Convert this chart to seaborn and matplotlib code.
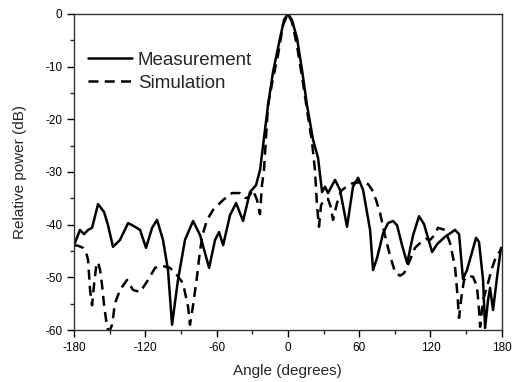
import numpy as np
import pandas as pd
import matplotlib
matplotlib.use("Agg")
import matplotlib.pyplot as plt
import seaborn as sns
from matplotlib.ticker import MultipleLocator

sns.set_style("ticks")
plt.rcParams['font.family'] = ['Liberation Sans', 'DejaVu Sans']
plt.rcParams['axes.unicode_minus'] = False

meas_angle = [-180, -175, -171.6, -168.2, -164.8, -159.8, -154.7, -151.4, -147.2, -141.3,
              -134.5, -129.5, -124.4, -119.4, -114.3, -110.1, -105.1, -100.9, -97.5, -92.5,
              -86.6, -79.8, -73.9, -66.3, -61.3, -57.9, -54.5, -48.7, -43.6, -37.7,
              -31.9, -26.8, -23.4, -16.7, -12.5, -6.6, -3.2, 0, 3.4, 7.7,
              11.9, 16.1, 21.2, 25.4, 27.1, 28.8, 31.3, 33.8, 39.7, 43.9,
              49.8, 54.8, 59.1, 63.3, 69.2, 71.7, 75.1, 80.2, 84.3, 88.5,
              91.9, 96.1, 100.4, 105.4, 110.4, 114.6, 121.4, 125.6, 132.3, 140.7,
              144.1, 147.4, 150.8, 158.4, 160.9, 164.3, 166.0, 168.5, 170.2, 172.7,
              176.1, 179.4]
meas_db = [-43.9, -41.0, -41.8, -41.0, -40.6, -36.1, -37.6, -40.1, -44.2, -42.9,
           -39.7, -40.3, -41.0, -44.4, -40.6, -39.1, -42.9, -48.6, -59.0, -50.5,
           -42.9, -39.3, -42.0, -48.2, -42.9, -41.4, -43.9, -38.2, -35.9, -39.3,
           -33.8, -32.5, -29.6, -17.3, -11.0, -4.6, -1.1, 0.0, -1.1, -4.6,
           -10.6, -17.3, -23.9, -27.3, -30.6, -33.8, -32.8, -34.0, -31.5, -33.4,
           -40.4, -32.8, -31.1, -33.4, -41.0, -48.6, -46.3, -41.6, -39.7, -39.3,
           -40.1, -43.9, -47.3, -42.0, -38.4, -39.9, -45.2, -43.7, -42.3, -41.0,
           -41.8, -50.3, -48.6, -42.5, -43.3, -50.5, -59.6, -54.3, -52.0, -56.2,
           -49.9, -44.4]

sim_angle = [-180, -176.6, -172.4, -169.9, -168.2, -166.5, -164.8, -163.2, -161.5, -159.8,
             -158.1, -156.4, -154.7, -153.0, -151.4, -149.7, -148.0, -145.5, -141.3, -135.4,
             -130.3, -124.4, -117.7, -111.8, -105.9, -99.2, -93.3, -88.3, -84.0, -82.4,
             -79.8, -76.5, -73.9, -71.4, -68.0, -63.0, -54.5, -47.0, -40.3, -36.1,
             -33.6, -29.4, -26.0, -23.5, -21.8, -20.1, -16.7, -12.5, -8.3, -4.1,
             0, 3.4, 7.6, 12.6, 16.8, 20.3, 22.8, 24.5, 26.2, 27.9,
             30.4, 33.8, 36.3, 38.0, 41.4, 44.7, 49.8, 54.8, 62.4, 67.5,
             70.9, 74.2, 77.6, 81.8, 86.0, 90.2, 94.4, 97.8, 102.8, 107.0,
             111.2, 116.3, 119.6, 123.0, 126.4, 132.3, 136.5, 140.7, 142.4, 144.1,
             145.8, 148.3, 151.6, 155.9, 159.2, 160.9, 161.8, 164.3, 167.6, 171.9,
             175.2, 179.4]
sim_db = [-43.9, -44.0, -44.4, -45.2, -46.7, -52.4, -55.3, -51.5, -48.2, -47.1,
          -48.6, -51.5, -55.3, -58.1, -60.0, -60.0, -59.0, -54.9, -52.4, -50.5,
          -52.4, -52.8, -50.5, -48.2, -47.8, -48.2, -49.6, -51.1, -55.6, -59.0,
          -55.3, -49.9, -44.8, -41.6, -39.1, -37.2, -35.3, -34.0, -34.0, -34.9,
          -34.9, -33.4, -35.3, -38.0, -32.5, -29.6, -17.3, -12.2, -7.8, -2.1,
          0.0, -1.5, -5.9, -12.9, -19.2, -24.3, -29.6, -36.3, -40.4, -36.3,
          -35.3, -35.1, -36.8, -39.1, -35.9, -33.6, -32.7, -32.1, -31.9, -32.3,
          -33.4, -35.3, -37.8, -42.1, -45.9, -49.0, -49.7, -49.2, -46.7, -44.4,
          -43.5, -42.7, -42.9, -42.1, -40.6, -41.0, -43.5, -48.0, -52.4, -57.7,
          -54.2, -50.5, -49.7, -49.9, -51.8, -56.2, -59.4, -54.3, -51.8, -48.2,
          -46.1, -44.8]

x_ticks = [-180, -120, -60, 0, 60, 120, 180]
y_ticks = [0, -10, -20, -30, -40, -50, -60]

meas = pd.DataFrame({"angle": meas_angle, "db": meas_db})
sim = pd.DataFrame({"angle": sim_angle, "db": sim_db})

fig = plt.figure(figsize=(5.13, 3.82), dpi=100)
ax = fig.add_axes([0.1443, 0.1361, 0.8337, 0.8273])

sns.lineplot(data=meas, x="angle", y="db", ax=ax, color="black", lw=1.8,
             label="Measurement", sort=False, estimator=None)
sns.lineplot(data=sim, x="angle", y="db", ax=ax, color="black", lw=1.8,
             label="Simulation", sort=False, estimator=None)
ax.lines[1].set_dashes((4, 2.5))
for ln in ax.lines:
    ln.set_solid_joinstyle("round")
    ln.set_dash_joinstyle("round")

ax.set_xlim(-180, 180)
ax.set_ylim(-60, 0)
ax.set_xticks(x_ticks)
ax.set_yticks(y_ticks)
ax.xaxis.set_minor_locator(MultipleLocator(30))
ax.yaxis.set_minor_locator(MultipleLocator(5))
ax.tick_params(which="major", direction="out", length=5, width=1, labelsize=8.5, colors="black")
ax.tick_params(which="minor", direction="out", length=3, width=1)
ax.tick_params(top=False, right=False, which="both")
for s in ax.spines.values():
    s.set_visible(True)
    s.set_color("#333333")
    s.set_linewidth(1.0)

ax.set_xlabel("Angle (degrees)", fontsize=11, labelpad=7)
ax.set_ylabel("Relative power (dB)", fontsize=11, labelpad=13)

leg = ax.legend(loc="upper left", bbox_to_anchor=(0.0327, 0.88), frameon=False,
                borderpad=0, borderaxespad=0,
                fontsize=13.5, handlelength=2.35, handletextpad=0.3, labelspacing=0.3)
for h in leg.get_lines():
    h.set_linewidth(1.8)
leg.get_lines()[1].set_dashes((4, 2.5))

fig.savefig("out.png", dpi=100)
